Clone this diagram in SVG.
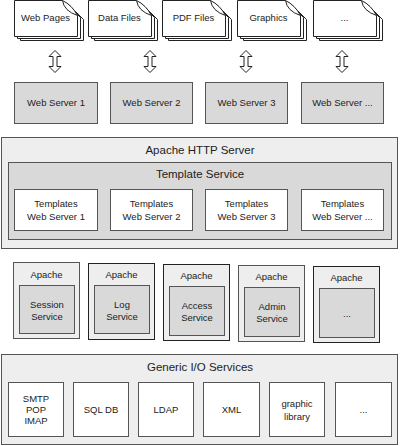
<svg xmlns="http://www.w3.org/2000/svg" width="400" height="446" viewBox="0 0 400 446">
<defs>
<style>
text{font-family:"Liberation Sans",Arial,sans-serif;fill:#222;text-anchor:middle;dominant-baseline:central}
.s{font-size:9.5px}
.t{font-size:11.5px}
.doc{fill:#fff;stroke:#222;stroke-width:1}
.fold{fill:none;stroke:#222;stroke-width:1}
.gray{fill:#d9d9d9;stroke:#555;stroke-width:1}
.light{fill:#eeeeee;stroke:#555;stroke-width:1}
.white{fill:#fff;stroke:#555;stroke-width:1}
.arr{fill:#fff;stroke:#222;stroke-width:1}
</style>
<g id="docshape">
<path class="doc" d="M6.5,4.5 H54.5 L69.5,19.5 V40.5 H6.5 Z"/>
<path class="doc" d="M3.5,2.5 H51.5 L66.5,17.5 V38.5 H3.5 Z"/>
<path class="doc" d="M0.5,0.5 H48.5 Q58,5 63.5,15.5 V36.5 H0.5 Z"/>
<path class="fold" d="M48.5,0.5 Q50,11 63.5,15.5"/>
</g>
<path id="dblarrow" d="M0,0 L6,6 H2 V16 H6 L0,22 L-6,16 H-2 V6 H-6 Z"/>
</defs>

<g id="doc-webpages" transform="translate(14,0)"><use href="#docshape"/><text class="s" x="31.5" y="17">Web Pages</text></g>
<g id="doc-datafiles" transform="translate(88,0)"><use href="#docshape"/><text class="s" x="31.5" y="17">Data Files</text></g>
<g id="doc-pdffiles" transform="translate(162,0)"><use href="#docshape"/><text class="s" x="31.5" y="17">PDF Files</text></g>
<g id="doc-graphics" transform="translate(237,0)"><use href="#docshape"/><text class="s" x="31.5" y="17">Graphics</text></g>
<g id="doc-more" transform="translate(313,0)"><use href="#docshape"/><text class="s" x="31.5" y="17">...</text></g>

<g id="connectors">
<use href="#dblarrow" class="arr" x="55" y="50.5"/>
<use href="#dblarrow" class="arr" x="150" y="50.5"/>
<use href="#dblarrow" class="arr" x="246" y="50.5"/>
<use href="#dblarrow" class="arr" x="342" y="50.5"/>
</g>

<g id="ws1"><rect class="gray" x="14.5" y="82.5" width="83" height="41"/><text class="s" x="56" y="102">Web Server 1</text></g>
<g id="ws2"><rect class="gray" x="110.5" y="82.5" width="82" height="41"/><text class="s" x="151.5" y="102">Web Server 2</text></g>
<g id="ws3"><rect class="gray" x="205.5" y="82.5" width="82" height="41"/><text class="s" x="246.5" y="102">Web Server 3</text></g>
<g id="ws4"><rect class="gray" x="301.5" y="82.5" width="82" height="41"/><text class="s" x="342.5" y="102">Web Server ...</text></g>

<g id="apache-http">
<rect class="light" x="1.5" y="137.5" width="396" height="111"/>
<text class="t" x="200" y="150">Apache HTTP Server</text>
</g>
<g id="template-service">
<rect class="gray" x="8.5" y="162.5" width="383" height="77"/>
<text class="t" x="200" y="174">Template Service</text>
</g>
<g id="tws1"><rect class="white" x="14.5" y="189.5" width="83" height="41"/><text class="s" x="56" y="203">Templates</text><text class="s" x="56" y="216">Web Server 1</text></g>
<g id="tws2"><rect class="white" x="110.5" y="189.5" width="82" height="41"/><text class="s" x="151.5" y="203">Templates</text><text class="s" x="151.5" y="216">Web Server 2</text></g>
<g id="tws3"><rect class="white" x="205.5" y="189.5" width="82" height="41"/><text class="s" x="246.5" y="203">Templates</text><text class="s" x="246.5" y="216">Web Server 3</text></g>
<g id="tws4"><rect class="white" x="301.5" y="189.5" width="82" height="41"/><text class="s" x="342.5" y="203">Templates</text><text class="s" x="342.5" y="216">Web Server ...</text></g>

<g id="ap-session"><rect class="light" x="13.5" y="262.5" width="66" height="76"/><text class="s" x="46.5" y="274">Apache</text>
<rect class="gray" x="19.5" y="285.5" width="55" height="48"/><text class="s" x="47" y="304">Session</text><text class="s" x="47" y="316">Service</text></g>
<g id="ap-log"><rect class="light" x="88.5" y="263.5" width="66" height="76" style="stroke:#222"/><text class="s" x="121.5" y="274.5">Apache</text>
<rect class="gray" x="94.5" y="285.5" width="55" height="48"/><text class="s" x="122" y="304">Log</text><text class="s" x="122" y="316">Service</text></g>
<g id="ap-access"><rect class="light" x="163.5" y="264.5" width="66" height="76" style="stroke:#222"/><text class="s" x="196.5" y="275.5">Apache</text>
<rect class="gray" x="169.5" y="286.5" width="55" height="49"/><text class="s" x="197" y="305">Access</text><text class="s" x="197" y="317">Service</text></g>
<g id="ap-admin"><rect class="light" x="238.5" y="265.5" width="66" height="76"/><text class="s" x="271.5" y="276">Apache</text>
<rect class="gray" x="244.5" y="287.5" width="55" height="49"/><text class="s" x="272" y="306">Admin</text><text class="s" x="272" y="318">Service</text></g>
<g id="ap-more"><rect class="light" x="313.5" y="266.5" width="66" height="76" style="stroke:#222"/><text class="s" x="346.5" y="277">Apache</text>
<rect class="gray" x="319.5" y="288.5" width="55" height="49"/><text class="s" x="347" y="313">...</text></g>

<g id="generic-io">
<rect class="light" x="1.5" y="354.5" width="396" height="90"/>
<text class="t" x="200" y="367">Generic I/O Services</text>
</g>
<g id="io-mail"><rect class="white" x="8.5" y="382.5" width="55" height="54"/><text class="s" x="36" y="398">SMTP</text><text class="s" x="36" y="409">POP</text><text class="s" x="36" y="420">IMAP</text></g>
<g id="io-sql"><rect class="white" x="73.5" y="382.5" width="55" height="54"/><text class="s" x="101" y="409">SQL DB</text></g>
<g id="io-ldap"><rect class="white" x="138.5" y="382.5" width="55" height="54"/><text class="s" x="166" y="409">LDAP</text></g>
<g id="io-xml"><rect class="white" x="203.5" y="382.5" width="56" height="54"/><text class="s" x="231.5" y="409">XML</text></g>
<g id="io-graphic"><rect class="white" x="269.5" y="382.5" width="55" height="54"/><text class="s" x="297" y="403">graphic</text><text class="s" x="297" y="416">library</text></g>
<g id="io-more"><rect class="white" x="335.5" y="382.5" width="56" height="54"/><text class="s" x="363.5" y="409">...</text></g>
</svg>
